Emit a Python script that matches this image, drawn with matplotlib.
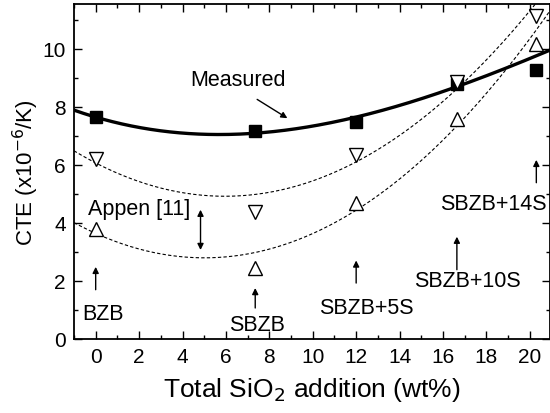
import matplotlib
matplotlib.use("Agg")
import matplotlib.pyplot as plt
import numpy as np

plt.rcParams['font.family'] = ['Liberation Sans', 'DejaVu Sans']

# SiO2 content (wt%) of the five glasses
silica = [0, 7.35, 12, 16.64, 20.3]
measured = [7.65, 7.16, 7.47, 8.79, 9.28]
appen_high = [6.2, 4.36, 6.34, 8.86, 11.13]   # open down triangles
appen_low = [3.8, 2.46, 4.69, 7.59, 10.17]    # open up triangles

# trend curves
meas_curve_x = [-1, 0, 4, 6, 9, 12, 16.64, 19, 20.9]
meas_curve_y = [7.87, 7.65, 7.13, 7.08, 7.22, 7.53, 8.79, 9.4, 9.9]
high_curve_x = [-1, 0, 2, 4, 6, 8.24, 12, 14, 16.64, 20.3]
high_curve_y = [6.5, 6.0, 5.46, 5.08, 4.94, 5.11, 6.03, 6.9, 8.79, 11.55]
low_curve_x = [-1, 0, 2, 4, 5, 6, 8.24, 12.38, 16.64, 20.9]
low_curve_y = [3.93, 3.62, 3.22, 2.9, 2.8, 2.8, 3.09, 4.59, 7.35, 11.3]

glass_names = ['BZB', 'SBZB', 'SBZB+5S', 'SBZB+10S', 'SBZB+14S']
name_x = [0.33, 7.45, 12.48, 17.12, 18.31]
name_y = [0.89, 0.51, 1.08, 2.03, 4.66]
arrow_tail = [1.6, 0.97, 1.83, 2.29, 5.29]
arrow_head = [2.58, 1.85, 2.8, 3.62, 6.27]

fig = plt.figure(figsize=(5.5, 4.14), dpi=100)
ax = fig.add_axes([0.1345, 0.179, 0.8655, 0.809])

xfit = np.linspace(-1, 21, 300)
for cx, cy, deg, style, lw in [(meas_curve_x, meas_curve_y, 3, '-', 2.4),
                               (high_curve_x, high_curve_y, 2, '--', 0.8),
                               (low_curve_x, low_curve_y, 2, '--', 0.8)]:
    coef = np.polyfit(cx, cy, deg)
    ln, = ax.plot(xfit, np.polyval(coef, xfit), style, color='black', lw=lw)
    if style == '--':
        ln.set_dashes((3, 2))

ax.plot(silica, measured, 's', color='black', ms=8)
ax.plot(silica, appen_high, 'v', mfc='white', mec='black', mew=1.0, ms=9.5)
ax.plot(silica, appen_low, '^', mfc='white', mec='black', mew=1.0, ms=9.5)

for x, name, nx, ny, t, h in zip(silica, glass_names, name_x, name_y, arrow_tail, arrow_head):
    ax.annotate('', xy=(x, h), xytext=(x, t),
                arrowprops=dict(arrowstyle='-|>', color='black', lw=1.0, mutation_scale=9))
    ax.text(nx, ny, name, ha='center', va='center', fontsize=15.5)

ax.text(6.56, 8.95, 'Measured', ha='center', va='center', fontsize=15.5)
ax.annotate('', xy=(8.94, 7.56), xytext=(7.33, 8.31),
            arrowprops=dict(arrowstyle='-|>', color='black', lw=1.0, mutation_scale=9))
ax.text(-0.35, 4.48, 'Appen [11]', ha='left', va='center', fontsize=15.5)
ax.annotate('', xy=(4.83, 2.97), xytext=(4.83, 4.55),
            arrowprops=dict(arrowstyle='<|-|>', color='black', lw=1.0, mutation_scale=9))

ax.set_xlim(-1, 20.93)
ax.set_ylim(0, 11.55)
ax.set_xticks(np.arange(0, 21, 2))
ax.set_xticks(np.arange(-1, 21, 1), minor=True)
ax.set_yticks(np.arange(0, 11, 2))
ax.set_yticks(np.arange(0, 12, 1), minor=True)
ax.tick_params(which='both', direction='in', top=True, right=True, labelsize=15, width=1.0)
ax.tick_params(which='major', length=6, pad=6)
ax.tick_params(which='minor', length=3)
for sp in ax.spines.values():
    sp.set_linewidth(1.3)

ax.set_xlabel('Total SiO$_2$ addition (wt%)', fontsize=19, labelpad=6)
ax.set_ylabel('CTE (x10$^{-6}$/K)', fontsize=16, labelpad=1)

fig.savefig('out.png', dpi=100)
